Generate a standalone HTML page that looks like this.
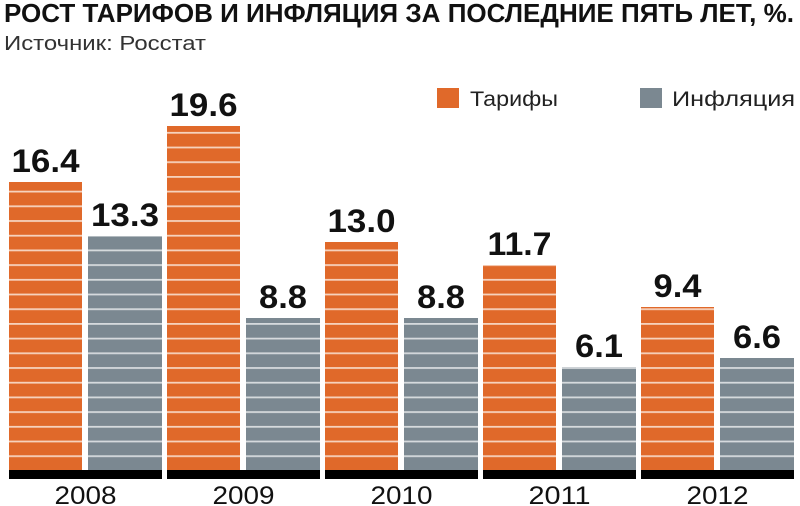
<!DOCTYPE html>
<html><head><meta charset="utf-8"><style>
html,body{margin:0;padding:0;background:#fff;}
svg{display:block;}
text{font-family:"Liberation Sans","DejaVu Sans",sans-serif;}
</style></head><body>
<svg width="800" height="506" viewBox="0 0 800 506" xmlns="http://www.w3.org/2000/svg">
<defs>
<pattern id="so" x="0" y="470" width="10" height="14.7" patternUnits="userSpaceOnUse">
<rect width="10" height="14.7" fill="#e0692a"/><rect y="0" width="10" height="1.8" fill="#f6d2bd"/>
</pattern>
<pattern id="sg" x="0" y="470" width="10" height="14.7" patternUnits="userSpaceOnUse">
<rect width="10" height="14.7" fill="#7b8891"/><rect y="0" width="10" height="1.8" fill="#d6dadd"/>
</pattern>
</defs>
<text x="4" y="22" font-size="26" font-weight="bold" fill="#111" textLength="790" lengthAdjust="spacingAndGlyphs">РОСТ ТАРИФОВ И ИНФЛЯЦИЯ ЗА ПОСЛЕДНИЕ ПЯТЬ ЛЕТ, %.</text>
<text x="4" y="50" font-size="20" fill="#333" textLength="202" lengthAdjust="spacingAndGlyphs">Источник: Росстат</text>
<rect x="437" y="88" width="22" height="20" fill="#e0692a"/>
<text x="470" y="106" font-size="21" fill="#222" textLength="88" lengthAdjust="spacingAndGlyphs">Тарифы</text>
<rect x="640" y="88" width="22" height="20" fill="#7b8891"/>
<text x="672" y="106" font-size="21" fill="#222" textLength="123" lengthAdjust="spacingAndGlyphs">Инфляция</text>
<g id="bars"></g>
<g font-size="32" font-weight="bold" fill="#111" text-anchor="middle">
<!-- group 1 -->
<rect x="9" y="182" width="73" height="288" fill="url(#so)"/>
<rect x="88" y="236" width="74" height="234" fill="url(#sg)"/>
<text x="45.5" y="172" textLength="68" lengthAdjust="spacingAndGlyphs">16.4</text>
<text x="125" y="226" textLength="68" lengthAdjust="spacingAndGlyphs">13.3</text>
<!-- group 2 -->
<rect x="167" y="126" width="73" height="344" fill="url(#so)"/>
<rect x="246" y="318" width="74" height="152" fill="url(#sg)"/>
<text x="203.5" y="116" textLength="68" lengthAdjust="spacingAndGlyphs">19.6</text>
<text x="283" y="308" textLength="48" lengthAdjust="spacingAndGlyphs">8.8</text>
<!-- group 3 -->
<rect x="325" y="242" width="73" height="228" fill="url(#so)"/>
<rect x="404" y="318" width="74" height="152" fill="url(#sg)"/>
<text x="361.5" y="232" textLength="68" lengthAdjust="spacingAndGlyphs">13.0</text>
<text x="441" y="308" textLength="48" lengthAdjust="spacingAndGlyphs">8.8</text>
<!-- group 4 -->
<rect x="483" y="265" width="73" height="205" fill="url(#so)"/>
<rect x="562" y="367" width="74" height="103" fill="url(#sg)"/>
<text x="519.5" y="255" textLength="64" lengthAdjust="spacingAndGlyphs">11.7</text>
<text x="599" y="357" textLength="48" lengthAdjust="spacingAndGlyphs">6.1</text>
<!-- group 5 -->
<rect x="641" y="307" width="73" height="163" fill="url(#so)"/>
<rect x="720" y="358" width="74" height="112" fill="url(#sg)"/>
<text x="677.5" y="297" textLength="48" lengthAdjust="spacingAndGlyphs">9.4</text>
<text x="757" y="348" textLength="48" lengthAdjust="spacingAndGlyphs">6.6</text>
</g>
<g fill="#000">
<rect x="9" y="470" width="153" height="9"/>
<rect x="167" y="470" width="153" height="9"/>
<rect x="325" y="470" width="153" height="9"/>
<rect x="483" y="470" width="153" height="9"/>
<rect x="641" y="470" width="153" height="9"/>
</g>
<g font-size="25" fill="#111" text-anchor="middle">
<text x="85.5" y="504" textLength="62" lengthAdjust="spacingAndGlyphs">2008</text>
<text x="243.5" y="504" textLength="62" lengthAdjust="spacingAndGlyphs">2009</text>
<text x="401.5" y="504" textLength="62" lengthAdjust="spacingAndGlyphs">2010</text>
<text x="559.5" y="504" textLength="62" lengthAdjust="spacingAndGlyphs">2011</text>
<text x="717.5" y="504" textLength="62" lengthAdjust="spacingAndGlyphs">2012</text>
</g>
</svg>
</body></html>
